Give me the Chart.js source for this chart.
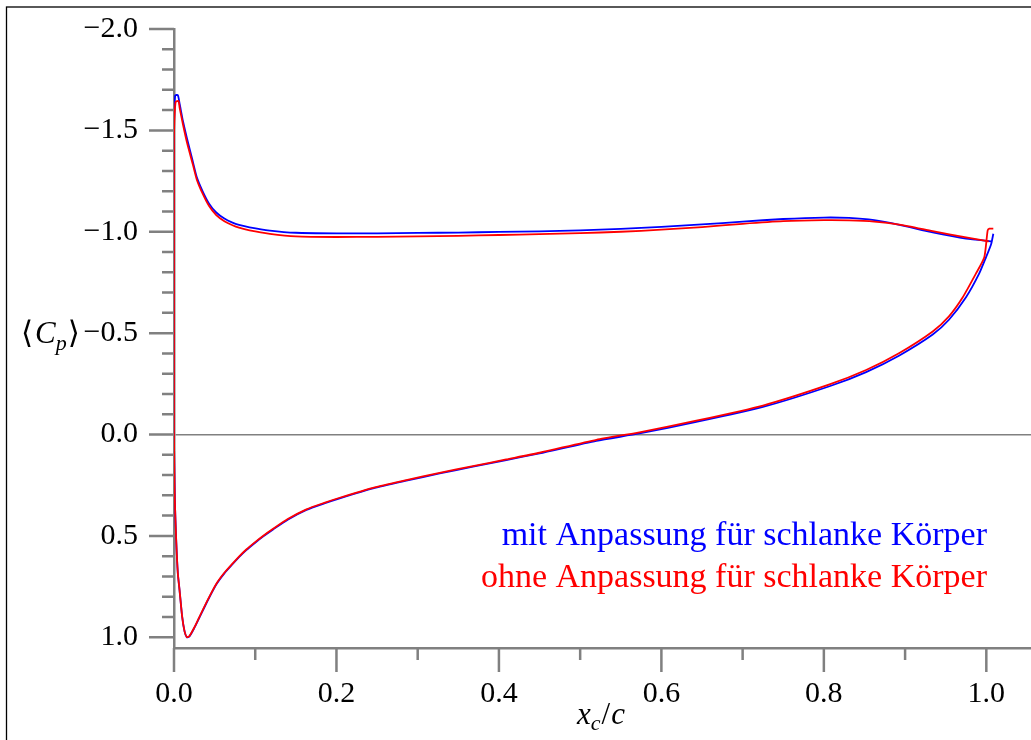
<!DOCTYPE html>
<html>
<head>
<meta charset="utf-8">
<script src="https://cdn.jsdelivr.net/npm/chart.js@4.4.0/dist/chart.umd.min.js"></script>
<style>
  html, body { margin: 0; padding: 0; background: #fff; overflow: hidden; }
</style>
</head>
<body>
<canvas id="myChart" width="1031" height="740"></canvas>
<script>
// pressure coefficient along the profile, trailing edge -> upper side -> leading edge -> lower side
const mitX = [
  1.006, 0.975, 0.934, 0.893, 0.862, 0.831, 0.8, 0.75, 0.7, 0.65, 0.6, 0.55, 0.5, 0.45, 0.4, 0.35, 0.3, 0.25, 0.2, 0.15,
  0.118, 0.093, 0.08, 0.072, 0.062, 0.052, 0.043, 0.035, 0.028, 0.023, 0.016, 0.011, 0.007, 0.0047, 0.0015, 0.0005,
  0, 0, 0, 0,
  0.0005, 0.001, 0.0027, 0.0047, 0.0068, 0.010, 0.013, 0.0158, 0.019, 0.025, 0.031, 0.042, 0.052, 0.062, 0.072, 0.08,
  0.089, 0.101, 0.11, 0.122, 0.14, 0.163, 0.185, 0.204, 0.245, 0.286, 0.327, 0.368, 0.409, 0.45, 0.52, 0.573,
  0.643, 0.725, 0.807, 0.852, 0.893, 0.934, 0.954, 0.975, 0.991, 0.9996, 1.006, 1.0086
];
const mitCp = [
  -0.953, -0.966, -0.997, -1.034, -1.057, -1.068, -1.07, -1.063, -1.05, -1.036, -1.024, -1.014, -1.007, -1.002, -0.999, -0.996, -0.994, -0.992, -0.992, -0.995,
  -1.006, -1.022, -1.034, -1.045, -1.065, -1.095, -1.14, -1.202, -1.27, -1.349, -1.46, -1.546, -1.63, -1.674, -1.672, -1.6,
  -1.5, -1.0, -0.5, 0.0,
  0.2, 0.323, 0.52, 0.684, 0.766, 0.897, 0.971, 1.0, 0.996, 0.954, 0.905, 0.815, 0.74, 0.685, 0.64, 0.605,
  0.57, 0.53, 0.502, 0.468, 0.42, 0.372, 0.34, 0.315, 0.266, 0.228, 0.192, 0.159, 0.126, 0.093, 0.031, -0.005,
  -0.062, -0.136, -0.238, -0.308, -0.39, -0.493, -0.566, -0.677, -0.792, -0.874, -0.94, -0.99
];

const ohneX = [
  1.003, 0.975, 0.934, 0.893, 0.862, 0.831, 0.8, 0.75, 0.7, 0.65, 0.6, 0.55, 0.5, 0.45, 0.4, 0.35, 0.3, 0.25, 0.2, 0.15,
  0.118, 0.093, 0.08, 0.072, 0.062, 0.052, 0.043, 0.035, 0.028, 0.023, 0.016, 0.011, 0.007, 0.0055, 0.002, 0.0005,
  0, 0, 0, 0,
  0.0005, 0.001, 0.0027, 0.0047, 0.0068, 0.010, 0.013, 0.0158, 0.019, 0.025, 0.031, 0.042, 0.052, 0.062, 0.072, 0.08,
  0.089, 0.101, 0.11, 0.122, 0.14, 0.163, 0.185, 0.204, 0.245, 0.286, 0.327, 0.368, 0.409, 0.45, 0.52, 0.573,
  0.643, 0.725, 0.807, 0.852, 0.893, 0.934, 0.954, 0.971, 0.987, 0.9975, 1.0016, 1.0037, 1.0086
];
const ohneCp = [
  -0.952, -0.972, -1.003, -1.035, -1.05, -1.056, -1.057, -1.052, -1.039, -1.023, -1.01, -1.0, -0.993, -0.988, -0.984, -0.98, -0.977, -0.975, -0.974, -0.977,
  -0.99, -1.007, -1.02, -1.032, -1.052, -1.082, -1.128, -1.19, -1.258, -1.335, -1.44, -1.53, -1.61, -1.645, -1.64, -1.55,
  -1.45, -1.0, -0.5, 0.0,
  0.2, 0.32, 0.52, 0.684, 0.766, 0.897, 0.971, 0.999, 0.994, 0.952, 0.902, 0.812, 0.737, 0.682, 0.637, 0.602,
  0.567, 0.527, 0.499, 0.465, 0.417, 0.369, 0.337, 0.312, 0.263, 0.225, 0.189, 0.156, 0.123, 0.09, 0.026, -0.011,
  -0.068, -0.143, -0.247, -0.318, -0.402, -0.508, -0.583, -0.677, -0.792, -0.874, -1.006, -1.015, -1.015
];

const xMajorTicks = [0.0, 0.2, 0.4, 0.6, 0.8, 1.0];
const yMajorTicks = [-2.0, -1.5, -1.0, -0.5, 0.0, 0.5, 1.0];
const seriesLabels = ['mit Anpassung für schlanke Körper', 'ohne Anpassung für schlanke Körper'];

const AXIS = '#808080';
const SERIF = "'Liberation Serif', 'DejaVu Serif', serif";

function isMajor(v, list) {
  return list.some(m => Math.abs(m - v) < 1e-6);
}
function fmt(v) {
  const s = Math.abs(v).toFixed(1);
  return v < -1e-9 ? '\u2212' + s : s;
}
function minorRange(a, b) {
  const out = [];
  for (let i = Math.round(a * 10); i <= Math.round(b * 10); i++) out.push({ value: i / 10 });
  return out;
}

function points(xs, ys) {
  return xs.map((x, i) => ({ x: x, y: ys[i] }));
}

// draw runs of text pieces, each [text, font, dy, extra gap]
function drawPieces(ctx, pieces, x, y) {
  pieces.forEach(p => {
    ctx.font = p[1];
    ctx.fillText(p[0], x, y + (p[2] || 0));
    x += ctx.measureText(p[0]).width + (p[3] || 0);
  });
}
function piecesWidth(ctx, pieces) {
  let w = 0;
  pieces.forEach(p => { ctx.font = p[1]; w += ctx.measureText(p[0]).width + (p[3] || 0); });
  return w;
}

const decorations = {
  id: 'decorations',
  afterDraw(chart) {
    const ctx = chart.ctx;
    const xs = chart.scales.x, ys = chart.scales.y;
    ctx.save();

    // outer frame
    ctx.strokeStyle = '#000';
    ctx.lineWidth = 1.3;
    ctx.strokeRect(6.5, 7, 2000, 2000);

    // tick marks, long for labelled ticks
    ctx.strokeStyle = AXIS;
    ctx.lineWidth = 2.5;
    ctx.beginPath();
    ys.ticks.forEach(t => {
      const py = ys.getPixelForValue(t.value);
      const len = isMajor(t.value, yMajorTicks) ? 25 : 12;
      ctx.moveTo(ys.right - len, py);
      ctx.lineTo(ys.right, py);
    });
    xs.ticks.forEach(t => {
      const px = xs.getPixelForValue(t.value);
      const len = isMajor(t.value, xMajorTicks) ? 24 : 12;
      ctx.moveTo(px, xs.top);
      ctx.lineTo(px, xs.top + len);
    });
    ctx.stroke();

    // series labels
    ctx.textBaseline = 'alphabetic';
    ctx.font = '34px ' + SERIF;
    ctx.textAlign = 'right';
    ctx.fillStyle = '#0000ff';
    ctx.fillText(seriesLabels[0], 987, 545);
    ctx.fillStyle = '#ff0000';
    ctx.fillText(seriesLabels[1], 987, 587);

    // axis titles
    ctx.textAlign = 'left';
    ctx.fillStyle = '#000';
    const big = '31px ' + SERIF, bigI = 'italic 31px ' + SERIF, smallI = 'italic 22px ' + SERIF;
    const xt = [['x', bigI, 0], ['c', smallI, 6, 1], ['/', big, 0, 1], ['c', bigI, 0]];
    drawPieces(ctx, xt, 601 - piecesWidth(ctx, xt) / 2, 724);
    const yt = [['\u27E8', big, 0, 2], ['C', bigI, 0], ['p', smallI, 7, 1], ['\u27E9', big, 0]];
    drawPieces(ctx, yt, 21, 343);

    ctx.restore();
  }
};

var ctx = document.getElementById('myChart').getContext('2d');
var myChart = new Chart(ctx, {
  type: 'scatter',
  data: {
    datasets: [
      {
        label: seriesLabels[0],
        data: points(mitX, mitCp),
        showLine: true,
        borderColor: '#0000ff',
        borderWidth: 1.8,
        pointRadius: 0,
        tension: 0.2,
        order: 1
      },
      {
        label: seriesLabels[1],
        data: points(ohneX, ohneCp),
        showLine: true,
        borderColor: '#ff0000',
        borderWidth: 1.8,
        pointRadius: 0,
        tension: 0.2,
        order: 0
      }
    ]
  },
  options: {
    responsive: false,
    animation: false,
    layout: { padding: { top: 28, right: 0, left: 0, bottom: 0 } },
    plugins: { legend: { display: false }, tooltip: { enabled: false } },
    scales: {
      x: {
        type: 'linear',
        min: 0,
        max: 1.055,
        afterBuildTicks: s => { s.ticks = minorRange(0, 1.0); },
        afterFit: s => { s.height = 92; },
        border: { display: true, color: AXIS, width: 2.5 },
        grid: { drawOnChartArea: false, drawTicks: true, tickLength: 24, tickColor: 'rgba(0,0,0,0)' },
        ticks: {
          autoSkip: false,
          maxRotation: 0,
          padding: 4,
          color: '#000',
          font: { family: SERIF, size: 30 },
          callback: v => isMajor(v, xMajorTicks) ? fmt(v) : ''
        }
      },
      y: {
        type: 'linear',
        reverse: true,
        min: -2.0,
        max: 1.053,
        afterBuildTicks: s => { s.ticks = minorRange(-2.0, 1.0); },
        afterFit: s => { s.width = 174; },
        border: { display: true, color: AXIS, width: 2.5 },
        grid: {
          drawOnChartArea: true,
          drawTicks: true,
          tickLength: 25,
          tickColor: 'rgba(0,0,0,0)',
          lineWidth: 1.5,
          color: c => (c.tick && Math.abs(c.tick.value) < 1e-9) ? AXIS : 'rgba(0,0,0,0)'
        },
        ticks: {
          autoSkip: false,
          padding: 11,
          color: '#000',
          font: { family: SERIF, size: 30 },
          callback: v => isMajor(v, yMajorTicks) ? fmt(v) : ''
        }
      }
    }
  },
  plugins: [decorations]
});
</script>
</body>
</html>
